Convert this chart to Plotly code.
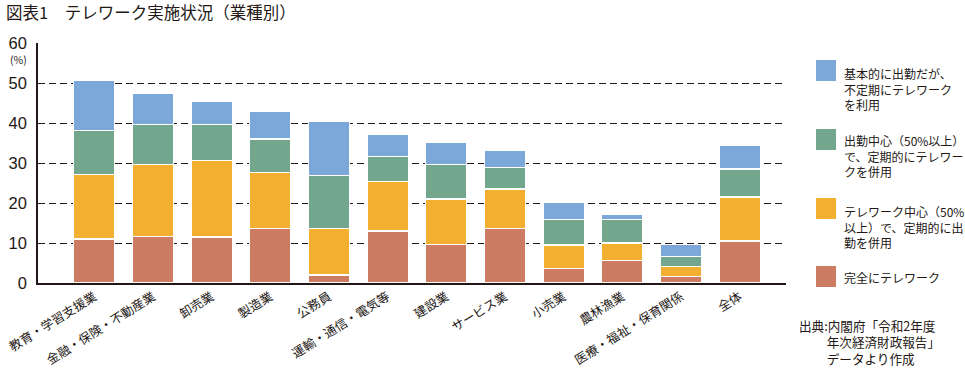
import plotly.graph_objects as go

categories = ["教育・学習支援業", "金融・保険・不動産業", "卸売業", "製造業", "公務員",
              "運輸・通信・電気等", "建設業", "サービス業", "小売業", "農林漁業",
              "医療・福祉・保育関係", "全体"]
full_tele = [11.0, 11.7, 11.5, 13.7, 2.0, 13.0, 9.7, 13.7, 3.7, 5.7, 1.7, 10.5]
tele_main = [16.2, 18.0, 19.2, 13.9, 11.7, 12.3, 11.3, 9.8, 5.8, 4.3, 2.5, 11.0]
office_main = [11.0, 10.0, 9.0, 8.4, 13.1, 6.4, 8.7, 5.3, 6.3, 5.8, 2.5, 7.0]
irregular = [12.4, 7.8, 5.7, 6.9, 13.6, 5.5, 5.4, 4.4, 4.4, 1.4, 2.9, 5.9]

series_names = ["完全にテレワーク", "テレワーク中心（50%以上）で、定期的に出勤を併用",
                "出勤中心（50%以上）で、定期的にテレワークを併用", "基本的に出勤だが、不定期にテレワークを利用"]
series_values = [full_tele, tele_main, office_main, irregular]
colors = ["#CB7C62", "#F2AF30", "#72A68D", "#7BA7D9"]

legend_lines = [
    ["基本的に出勤だが、", "不定期にテレワーク", "を利用"],
    ["出勤中心（50%以上）", "で、定期的にテレワー", "クを併用"],
    ["テレワーク中心（50%", "以上）で、定期的に出", "勤を併用"],
    ["完全にテレワーク"],
]
legend_colors = ["#7BA7D9", "#72A68D", "#F2AF30", "#CB7C62"]
source_lines = ["出典:内閣府「令和2年度", "\u3000\u3000\u2009年次経済財政報告」", "\u3000\u3000\u2009データより作成"]

W, H = 965, 371
L, R, T, B = 38, 179, 43, 88
PW, PH = W - L - R, H - T - B

def px(x):
    return (x - L) / PW

def py(y):
    return (H - B - y) / PH

FONT = "Noto Sans CJK JP"
TXT = "#231815"

fig = go.Figure()
for name, vals, c in zip(series_names, series_values, colors):
    fig.add_trace(go.Bar(x=categories, y=vals, name=name, marker_color=c,
                         marker_line_color="white", marker_line_width=1.2,
                         showlegend=False))

fig.update_layout(
    width=W, height=H, barmode="stack", bargap=0.30,
    margin=dict(l=L, r=R, t=T, b=B, autoexpand=False),
    plot_bgcolor="white", paper_bgcolor="white",
    font=dict(family=FONT, color=TXT),
    xaxis=dict(range=[-0.96, 11.79], tickangle=-32, tickfont=dict(size=12.5, family=FONT, color=TXT),
               showline=True, linecolor="#231815", linewidth=1.5, ticks="", showgrid=False,
               automargin=False),
    yaxis=dict(range=[0, 60], dtick=10, showgrid=True, gridcolor="#231815", gridwidth=1.2,
               griddash="7px,4px", showline=True, linecolor="#231815", linewidth=1.5,
               ticks="", zeroline=False, automargin=False, ticklabelstandoff=6,
               tickfont=dict(size=16.5, family="Liberation Sans, Noto Sans CJK JP", color=TXT)),
)

ann = []
ann.append(dict(text="図表1　テレワーク実施状況（業種別）", x=px(4), y=py(12), xref="paper", yref="paper",
                xanchor="left", yanchor="middle", showarrow=False, font=dict(size=16.5, family=FONT, color=TXT)))
ann.append(dict(text="(%)", x=px(18), y=py(60), xref="paper", yref="paper",
                xanchor="center", yanchor="middle", showarrow=False, font=dict(size=10.5, family=FONT, color=TXT)))

shapes = []
sq_tops = [60, 129, 198, 266]
line_starts = [72, 139, 210, 277]
for top, start, lines, c in zip(sq_tops, line_starts, legend_lines, legend_colors):
    shapes.append(dict(type="rect", xref="paper", yref="paper", x0=px(816), x1=px(836),
                       y0=py(top + 21), y1=py(top), fillcolor=c, line_width=0))
    center = start + 16.5 * (len(lines) - 1) / 2
    ann.append(dict(text="<br>".join(lines), x=px(842), y=py(center), xref="paper", yref="paper",
                    xanchor="left", yanchor="middle", align="left", showarrow=False,
                    font=dict(size=12, family=FONT, color=TXT)))

ann.append(dict(text="<br>".join(source_lines), x=px(797), y=py(342), xref="paper", yref="paper",
                xanchor="left", yanchor="middle", align="left", showarrow=False,
                font=dict(size=12.6, family=FONT, color=TXT)))

fig.update_layout(annotations=ann, shapes=shapes)
fig.write_html("out.html", config={"displayModeBar": False},
               post_script="document.body.style.margin='0';document.body.style.overflow='hidden';")
